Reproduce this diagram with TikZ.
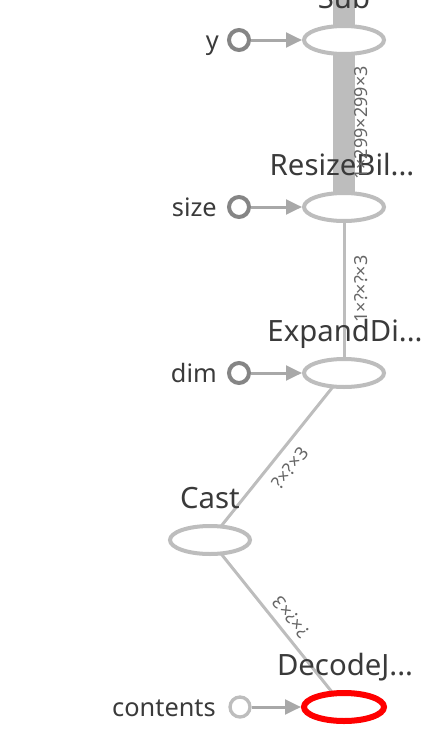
\documentclass[tikz,border=0pt]{standalone}
\usepackage{fontspec}
\setmainfont{Noto Sans}
\usetikzlibrary{shapes.geometric,arrows.meta,backgrounds}

\definecolor{edgegray}{HTML}{BDBDBD}
\definecolor{portgray}{HTML}{858585}
\definecolor{arrowgray}{HTML}{A8A8A8}
\definecolor{textgray}{HTML}{3A3A3A}
\definecolor{shapegray}{HTML}{666666}

\begin{document}
\begin{tikzpicture}[x=0.75pt,y=-0.75pt,
    opnode/.style={ellipse,draw=edgegray,line width=3pt,fill=white,inner sep=0pt,
                   minimum width=60pt,minimum height=21pt},
    oplabel/.style={anchor=base,text=textgray,font=\fontsize{22}{24}\selectfont,inner sep=0pt},
    inport/.style={circle,draw=portgray,line width=3pt,fill=white,inner sep=0pt,minimum size=15pt},
    portlabel/.style={anchor=base east,text=textgray,font=\fontsize{19}{21}\selectfont,inner sep=0pt},
    inarrow/.style={draw=arrowgray,line width=2.25pt,-{Triangle[length=12pt,width=11pt]}},
    dataedge/.style={draw=edgegray,line width=2.25pt},
    bigedge/.style={draw=edgegray,line width=16.5pt},
    shapelabel/.style={text=shapegray,font=\fontsize{13.5}{15}\selectfont,inner sep=0pt}]
  \useasboundingbox (0,0) rectangle (438,746);
  \clip (0,0) rectangle (438,746);

  % operation nodes
  \node[opnode] (sub) at (344,40) {};
  \node[opnode] (resize) at (344,207) {};
  \node[opnode] (expand) at (344,373) {};
  \node[opnode] (cast) at (210,540) {};
  \node[opnode,draw=red,line width=4.5pt] (decode) at (344,707) {};
  \coordinate (subout) at (344,-20);

  \node[oplabel] (sublab) at (344,8) {Sub};
  \node[oplabel] (resizelab) at (342,175) {ResizeBil...};
  \node[oplabel] (expandlab) at (345,341) {ExpandDi...};
  \node[oplabel] (castlab) at (210,508) {Cast};
  \node[oplabel] (decodelab) at (345,675) {DecodeJ...};

  % inputs
  \node[inport] (y) at (239,40) {};
  \node[inport] (size) at (239,207) {};
  \node[inport] (dim) at (239,373) {};
  \node[inport,draw=edgegray,line width=2.5pt] (contents) at (240,707) {};

  \node[portlabel] (ylab) at (219,49) {y};
  \node[portlabel] (sizelab) at (217,216) {size};
  \node[portlabel] (dimlab) at (217,382) {dim};
  \node[portlabel] (contentslab) at (216,716) {contents};

  \draw[inarrow] (y) -- (sub);
  \draw[inarrow] (size) -- (resize);
  \draw[inarrow] (dim) -- (expand);
  \draw[inarrow] (contents) -- (decode);

  % data edges
  \begin{pgfonlayer}{background}
    \draw[bigedge] (subout) -- (sub.center);
    \draw[bigedge] (sub.center) -- (resize.center);
    \draw[dataedge] (resize.center) -- (expand.center);
    \draw[dataedge] (expand.center) -- (cast.center);
    \draw[dataedge] (cast.center) -- (decode.center);
  \end{pgfonlayer}

  \node[shapelabel,rotate=90] (e1) at (361,123) {1×299×299×3};
  \node[shapelabel,rotate=90] (e2) at (361,289) {1×?×?×3};
  \node[shapelabel,rotate=51] (e3) at (290,468) {?×?×3};
  \node[shapelabel,rotate=129] (e4) at (291,617) {?×?×3};
\end{tikzpicture}
\end{document}
